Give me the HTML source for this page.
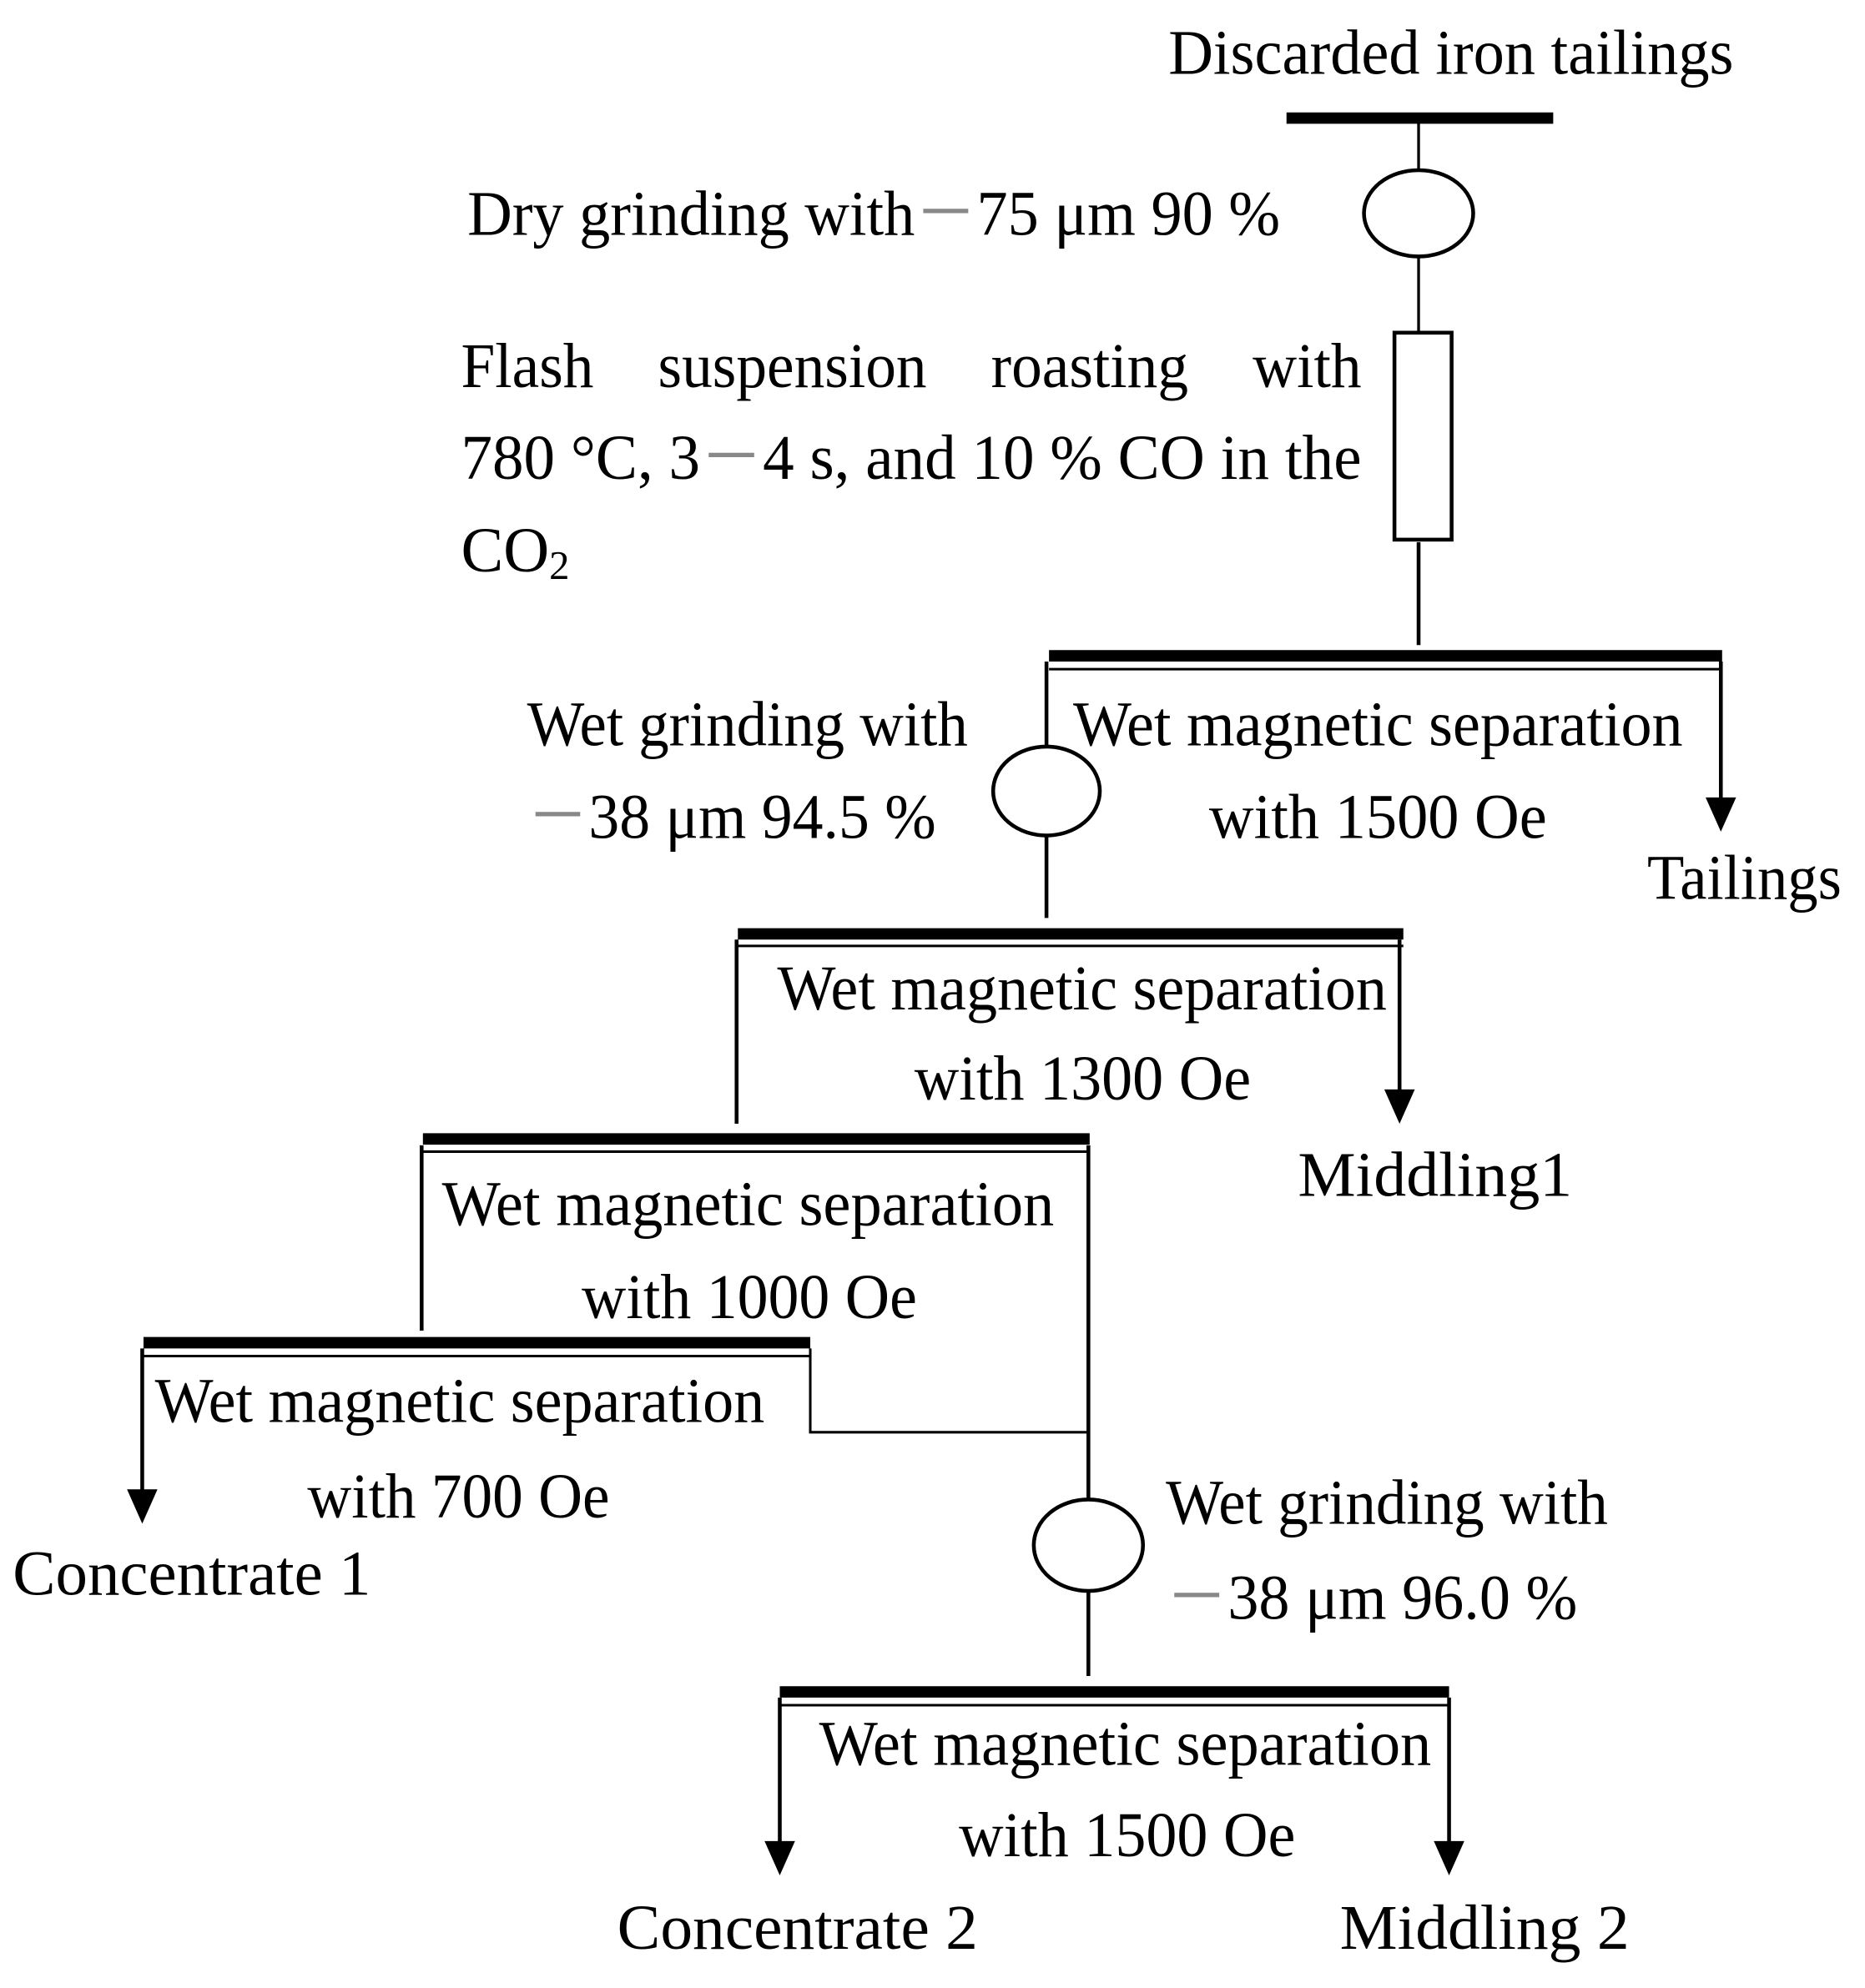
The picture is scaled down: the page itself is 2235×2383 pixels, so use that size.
<!DOCTYPE html>
<html><head><meta charset="utf-8"><style>html,body{margin:0;padding:0;background:#fff}svg{display:block}</style></head>
<body>
<svg width="2235" height="2383" viewBox="0 0 1468.5 1565.7" xmlns="http://www.w3.org/2000/svg" font-family="'Liberation Serif', serif" font-size="50" fill="#000">
<g stroke="#000" fill="none" stroke-width="2.2">
<!-- top -->
<line x1="1013" y1="93" x2="1223" y2="93" stroke-width="9"/>
<line x1="1117" y1="97" x2="1117" y2="134"/>
<ellipse cx="1117" cy="168" rx="43" ry="34" stroke-width="3"/>
<line x1="1117" y1="202" x2="1117" y2="262"/>
<rect x="1098" y="262" width="45" height="163" stroke-width="3"/>
<line x1="1117" y1="427" x2="1117" y2="508" stroke-width="3"/>
<!-- sep1 -->
<line x1="826" y1="516.5" x2="1356" y2="516.5" stroke-width="9"/>
<line x1="826" y1="527" x2="1356" y2="527" stroke-width="2"/>
<line x1="824" y1="521" x2="824" y2="588" stroke-width="3"/>
<ellipse cx="824" cy="623" rx="42" ry="35" stroke-width="3"/>
<line x1="824" y1="658" x2="824" y2="723" stroke-width="3"/>
<line x1="1355" y1="521" x2="1355" y2="635" stroke-width="3"/>
<!-- sep2 -->
<line x1="581" y1="735.5" x2="1105" y2="735.5" stroke-width="9"/>
<line x1="581" y1="745" x2="1105" y2="745" stroke-width="2"/>
<line x1="580" y1="740" x2="580" y2="885" stroke-width="3"/>
<line x1="1102" y1="740" x2="1102" y2="865" stroke-width="3"/>
<!-- sep3 -->
<line x1="333" y1="897" x2="858" y2="897" stroke-width="9"/>
<line x1="333" y1="907" x2="858" y2="907" stroke-width="2"/>
<line x1="332" y1="902" x2="332" y2="1048" stroke-width="3"/>
<line x1="857" y1="902" x2="857" y2="1181" stroke-width="3"/>
<!-- sep4 -->
<line x1="113" y1="1057.5" x2="638" y2="1057.5" stroke-width="9"/>
<line x1="113" y1="1068" x2="638" y2="1068" stroke-width="2"/>
<line x1="112" y1="1062" x2="112" y2="1180" stroke-width="3"/>
<polyline points="638,1062 638,1128 857,1128" stroke-width="2"/>
<ellipse cx="857" cy="1217" rx="43" ry="36" stroke-width="3"/>
<line x1="857" y1="1253" x2="857" y2="1320" stroke-width="3"/>
<!-- sep5 -->
<line x1="614" y1="1332.5" x2="1141" y2="1332.5" stroke-width="9"/>
<line x1="614" y1="1343" x2="1141" y2="1343" stroke-width="2"/>
<line x1="614" y1="1337" x2="614" y2="1457" stroke-width="3"/>
<line x1="1141" y1="1337" x2="1141" y2="1457" stroke-width="3"/>
</g>
<g fill="#000">
<polygon points="1343,628 1367,628 1355,655"/>
<polygon points="1090,858 1114,858 1102,885"/>
<polygon points="100,1173 124,1173 112,1200"/>
<polygon points="602,1450 626,1450 614,1477"/>
<polygon points="1129,1450 1153,1450 1141,1477"/>
</g>
<g lengthAdjust="spacingAndGlyphs">
<text x="920" y="58" textLength="445" lengthAdjust="spacingAndGlyphs">Discarded iron tailings</text>
<text x="368" y="185" textLength="640" lengthAdjust="spacingAndGlyphs">Dry grinding with<tspan fill="#888">－</tspan>75 μm 90 %</text>
<text x="363" y="305" textLength="709" lengthAdjust="spacingAndGlyphs" word-spacing="40">Flash suspension roasting with</text>
<text x="363" y="377" textLength="709" lengthAdjust="spacingAndGlyphs">780 °C, 3<tspan fill="#888">－</tspan>4 s, and 10 % CO in the</text>
<text x="363" y="450">CO<tspan font-size="32" dy="6">2</tspan></text>
<text x="845" y="587" textLength="480" lengthAdjust="spacingAndGlyphs">Wet magnetic separation</text>
<text x="952" y="660" textLength="266" lengthAdjust="spacingAndGlyphs">with 1500 Oe</text>
<text x="1297" y="708" textLength="153" lengthAdjust="spacingAndGlyphs">Tailings</text>
<text x="415" y="587" textLength="347" lengthAdjust="spacingAndGlyphs">Wet grinding with</text>
<text x="415" y="660" textLength="322" lengthAdjust="spacingAndGlyphs"><tspan fill="#888">－</tspan>38 μm 94.5 %</text>
<text x="612" y="795" textLength="480" lengthAdjust="spacingAndGlyphs">Wet magnetic separation</text>
<text x="720" y="866" textLength="265" lengthAdjust="spacingAndGlyphs">with 1300 Oe</text>
<text x="1022" y="942" textLength="216" lengthAdjust="spacingAndGlyphs">Middling1</text>
<text x="348" y="965" textLength="482" lengthAdjust="spacingAndGlyphs">Wet magnetic separation</text>
<text x="458" y="1038" textLength="264" lengthAdjust="spacingAndGlyphs">with 1000 Oe</text>
<text x="122" y="1120" textLength="480" lengthAdjust="spacingAndGlyphs">Wet magnetic separation</text>
<text x="242" y="1195" textLength="238" lengthAdjust="spacingAndGlyphs">with 700 Oe</text>
<text x="10" y="1256" textLength="282" lengthAdjust="spacingAndGlyphs">Concentrate 1</text>
<text x="918" y="1200" textLength="348" lengthAdjust="spacingAndGlyphs">Wet grinding with</text>
<text x="918" y="1275" textLength="324" lengthAdjust="spacingAndGlyphs"><tspan fill="#888">－</tspan>38 μm 96.0 %</text>
<text x="645" y="1390" textLength="482" lengthAdjust="spacingAndGlyphs">Wet magnetic separation</text>
<text x="755" y="1462" textLength="265" lengthAdjust="spacingAndGlyphs">with 1500 Oe</text>
<text x="486" y="1535" textLength="284" lengthAdjust="spacingAndGlyphs">Concentrate 2</text>
<text x="1055" y="1535" textLength="228" lengthAdjust="spacingAndGlyphs">Middling 2</text>
</g>
</svg>
</body></html>
